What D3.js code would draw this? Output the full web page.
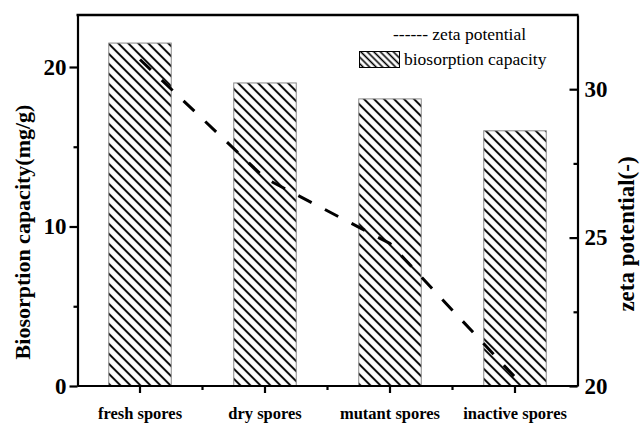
<!DOCTYPE html>
<html>
<head>
<meta charset="utf-8">
<script src="https://cdn.jsdelivr.net/npm/d3@7"></script>
<style>
  html, body { margin: 0; padding: 0; background: #fff; }
  svg { display: block; }
</style>
</head>
<body>
<svg id="chart" width="641" height="426"></svg>
<script>
// Spore types along the x axis
const categories = ["fresh spores", "dry spores", "mutant spores", "inactive spores"];
// Biosorption capacity (mg/g), bars on the left axis
const capacity = [21.5, 19.0, 18.0, 16.0];
// Zeta potential, dashed line on the right axis
const zeta = [31.0, 27.0, 24.8, 20.3];
// Axis tick values
const leftTicks = [0, 10, 20];
const leftMinor = [5, 15];
const rightTicks = [20, 25, 30];
const rightMinor = [22.5, 27.5];

const FONT = "'Liberation Serif', 'Times New Roman', Times, serif";
const svg = d3.select("#chart");
const m = { left: 77.5, right: 577.5, top: 15, bottom: 386 };

const x = d3.scaleBand().domain(categories).range([m.left, m.right])
  .paddingInner(0.5).paddingOuter(0.25);
const yL = d3.scaleLinear().domain([0, 23.26]).range([m.bottom, m.top]);
const yR = d3.scaleLinear().domain([20, 32.5]).range([m.bottom, m.top]);

// Diagonal hatch fills
const defs = svg.append("defs");
function hatch(id, gap, sw) {
  const p = defs.append("pattern").attr("id", id)
    .attr("patternUnits", "userSpaceOnUse")
    .attr("width", gap).attr("height", gap)
    .attr("patternTransform", "rotate(-45)");
  p.append("rect").attr("width", gap).attr("height", gap).attr("fill", "#fff");
  p.append("line").attr("x1", gap / 2).attr("x2", gap / 2)
    .attr("y1", 0).attr("y2", gap)
    .attr("stroke", "#000").attr("stroke-width", sw);
}
hatch("hatchBar", 7.07, 2);
hatch("hatchKey", 4.6, 1.6);

// Bars
svg.append("g").selectAll("rect").data(categories).join("rect")
  .attr("x", d => x(d))
  .attr("y", (d, i) => yL(capacity[i]))
  .attr("width", x.bandwidth())
  .attr("height", (d, i) => yL(0) - yL(capacity[i]))
  .attr("fill", "url(#hatchBar)")
  .attr("stroke", "#8a8a8a").attr("stroke-width", 1);

// Zeta potential line
const line = d3.line()
  .x((d, i) => x(categories[i]) + x.bandwidth() / 2)
  .y(d => yR(d));
svg.append("path").datum(zeta)
  .attr("d", line)
  .attr("fill", "none").attr("stroke", "#000")
  .attr("stroke-width", 3).attr("stroke-dasharray", "15,15");

// Axes
function styleAxis(g) {
  g.attr("font-family", FONT);
  g.selectAll("path.domain").attr("stroke", "#000").attr("stroke-width", 2.2);
  g.selectAll(".tick line").attr("stroke", "#000").attr("stroke-width", 2.2);
}

// Left axis
const gL = svg.append("g").attr("transform", `translate(${m.left},0)`)
  .call(d3.axisLeft(yL).tickValues(leftTicks).tickSize(8).tickSizeOuter(0).tickPadding(3));
gL.call(styleAxis);
gL.selectAll(".tick text").attr("font-size", 23).attr("font-weight", "bold");
svg.append("g").attr("transform", `translate(${m.left},0)`)
  .call(d3.axisLeft(yL).tickValues(leftMinor).tickSize(4).tickFormat(""))
  .call(styleAxis).select("path.domain").remove();

// Right axis, ticks pointing inward
const gR = svg.append("g").attr("transform", `translate(${m.right},0)`)
  .call(d3.axisRight(yR).tickValues(rightTicks).tickSizeInner(-8).tickSizeOuter(0).tickPadding(7));
gR.call(styleAxis);
gR.selectAll(".tick text").attr("font-size", 23).attr("font-weight", "bold");
svg.append("g").attr("transform", `translate(${m.right},0)`)
  .call(d3.axisRight(yR).tickValues(rightMinor).tickSizeInner(-4).tickSizeOuter(0).tickFormat(""))
  .call(styleAxis).select("path.domain").remove();

// Bottom axis with category labels
const gB = svg.append("g").attr("transform", `translate(0,${m.bottom})`)
  .call(d3.axisBottom(x).tickSize(7).tickSizeOuter(0).tickPadding(14));
gB.call(styleAxis);
gB.select("path.domain").attr("d", `M${m.left},0H${m.right}`);
gB.selectAll(".tick text").attr("font-size", 16.5).attr("font-weight", "bold");
// Minor ticks on the category boundaries
const bounds = d3.range(categories.length + 1).map(i => m.left + i * x.step());
svg.append("g").selectAll("line").data(bounds.slice(1, -1)).join("line")
  .attr("x1", d => d).attr("x2", d => d)
  .attr("y1", m.bottom).attr("y2", m.bottom + 4)
  .attr("stroke", "#000").attr("stroke-width", 2.2);

// Top frame edge
svg.append("line")
  .attr("x1", m.left - 1).attr("x2", m.right + 1)
  .attr("y1", m.top).attr("y2", m.top)
  .attr("stroke", "#000").attr("stroke-width", 2.6);

// Axis titles
svg.append("text")
  .attr("transform", `translate(30,232) rotate(-90)`)
  .attr("text-anchor", "middle").attr("font-family", FONT)
  .attr("font-size", 22).attr("font-weight", "bold")
  .text("Biosorption capacity(mg/g)");
svg.append("text")
  .attr("transform", `translate(634,234) rotate(-90)`)
  .attr("text-anchor", "middle").attr("font-family", FONT)
  .attr("font-size", 23).attr("font-weight", "bold")
  .text("zeta potential(-)");

// Legend
svg.append("text").attr("x", 393).attr("y", 40)
  .attr("font-family", FONT).attr("font-size", 17.5).text("------ zeta potential");
svg.append("rect").attr("x", 359.5).attr("y", 51.5)
  .attr("width", 40).attr("height", 16)
  .attr("fill", "url(#hatchKey)").attr("stroke", "#000").attr("stroke-width", 1);
svg.append("text").attr("x", 404).attr("y", 65)
  .attr("font-family", FONT).attr("font-size", 17.5).text("biosorption capacity");
</script>
</body>
</html>
